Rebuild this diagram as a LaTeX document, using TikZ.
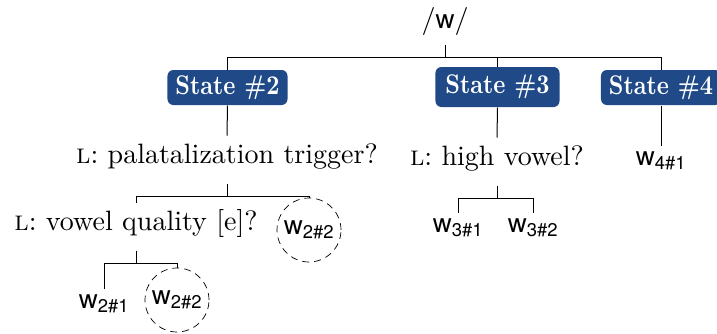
\documentclass[tikz,border=0pt]{standalone}
\usepackage{fontspec}
\setmainfont{lmroman10-regular.otf}[SmallCapsFont=lmromancaps10-regular.otf]
\setsansfont{TeX Gyre Heros}[Scale=0.94]
\newfontfamily\statefamily{lmroman10-bold.otf}[FakeStretch=0.85]
\usepackage{tikz}
\usetikzlibrary{positioning,calc}
\frenchspacing

\definecolor{stateblue}{HTML}{204A87}
\newcommand{\treefont}{\fontsize{28}{32}\selectfont}
\newcommand{\statefont}{\fontsize{27}{30}\statefamily}
\newcommand{\wsub}[1]{w\textsubscript{#1}}

\tikzset{
  state/.style={fill=stateblue, text=white, font=\statefont,
    rounded corners=6pt, minimum height=35pt, inner xsep=8pt, inner ysep=0pt},
  topnode/.style={anchor=base, font=\treefont, text depth=16pt, inner sep=0pt},
  ques/.style={anchor=base, font=\treefont, text height=21pt, text depth=14pt,
    inner ysep=6pt, inner xsep=0pt},
  leaf/.style={anchor=base, font=\treefont\sffamily, text height=14pt,
    text depth=6pt, inner ysep=5pt, inner xsep=0pt},
  cand/.style={circle, draw, dash pattern=on 7pt off 5pt, line width=0.7pt,
    minimum size=64pt, inner sep=0pt, font=\treefont\sffamily},
}

\begin{document}
\begin{tikzpicture}[x=1pt, y=-1pt, line width=1pt]
  \useasboundingbox (0,0) rectangle (717,333);

  % root and the three states
  \node[topnode] (root) at (445,28) {/\textsf{w}/};
  \node[state] (s2) at (227.5,87.5) {State \#2};
  \node[state, minimum height=40pt, inner xsep=10pt] (s3) at (497.5,87) {State \#3};
  \node[state] (s4) at (661,87.5) {State \#4};

  % questions and outcomes
  \node[ques] (q1) at (227,163) {\textsc{l}: palatalization trigger?};
  \node[ques] (q2) at (136,230) {\textsc{l}: vowel quality [e]?};
  \node[cand] (c1) at (309,230) {\wsub{2\#2}};
  \node[leaf] (l21) at (104,308) {\wsub{2\#1}};
  \node[cand] (c2) at (177,300) {\wsub{2\#2}};
  \node[ques] (q3) at (497,165) {\textsc{l}: high vowel?};
  \node[leaf] (l31) at (458,232) {\wsub{3\#1}};
  \node[leaf] (l32) at (533,232) {\wsub{3\#2}};
  \node[leaf] (l41) at (661,165) {\wsub{4\#1}};

  % branches
  \draw (root.south) -- ++(0,13) coordinate (j0);
  \draw (s2.north) |- (j0) -| (s4.north);
  \draw (j0 -| s3.north) -- (s3.north);

  \draw (s2.south) -- (q1.north);
  \draw (q1.south) -- ++(0,13) coordinate (j1);
  \draw (q2.north) |- (j1) -| (c1.north);
  \draw (q2.south) -- ++(0,13) coordinate (j2);
  \draw (l21.north) |- (j2) -| (c2.north);

  \draw (s3.south) -- (q3.north);
  \draw (q3.south) -- ++(0,13) coordinate (j3);
  \draw (l31.north) |- (j3) -| (l32.north);

  \draw (s4.south) -- (l41.north);
\end{tikzpicture}
\end{document}
